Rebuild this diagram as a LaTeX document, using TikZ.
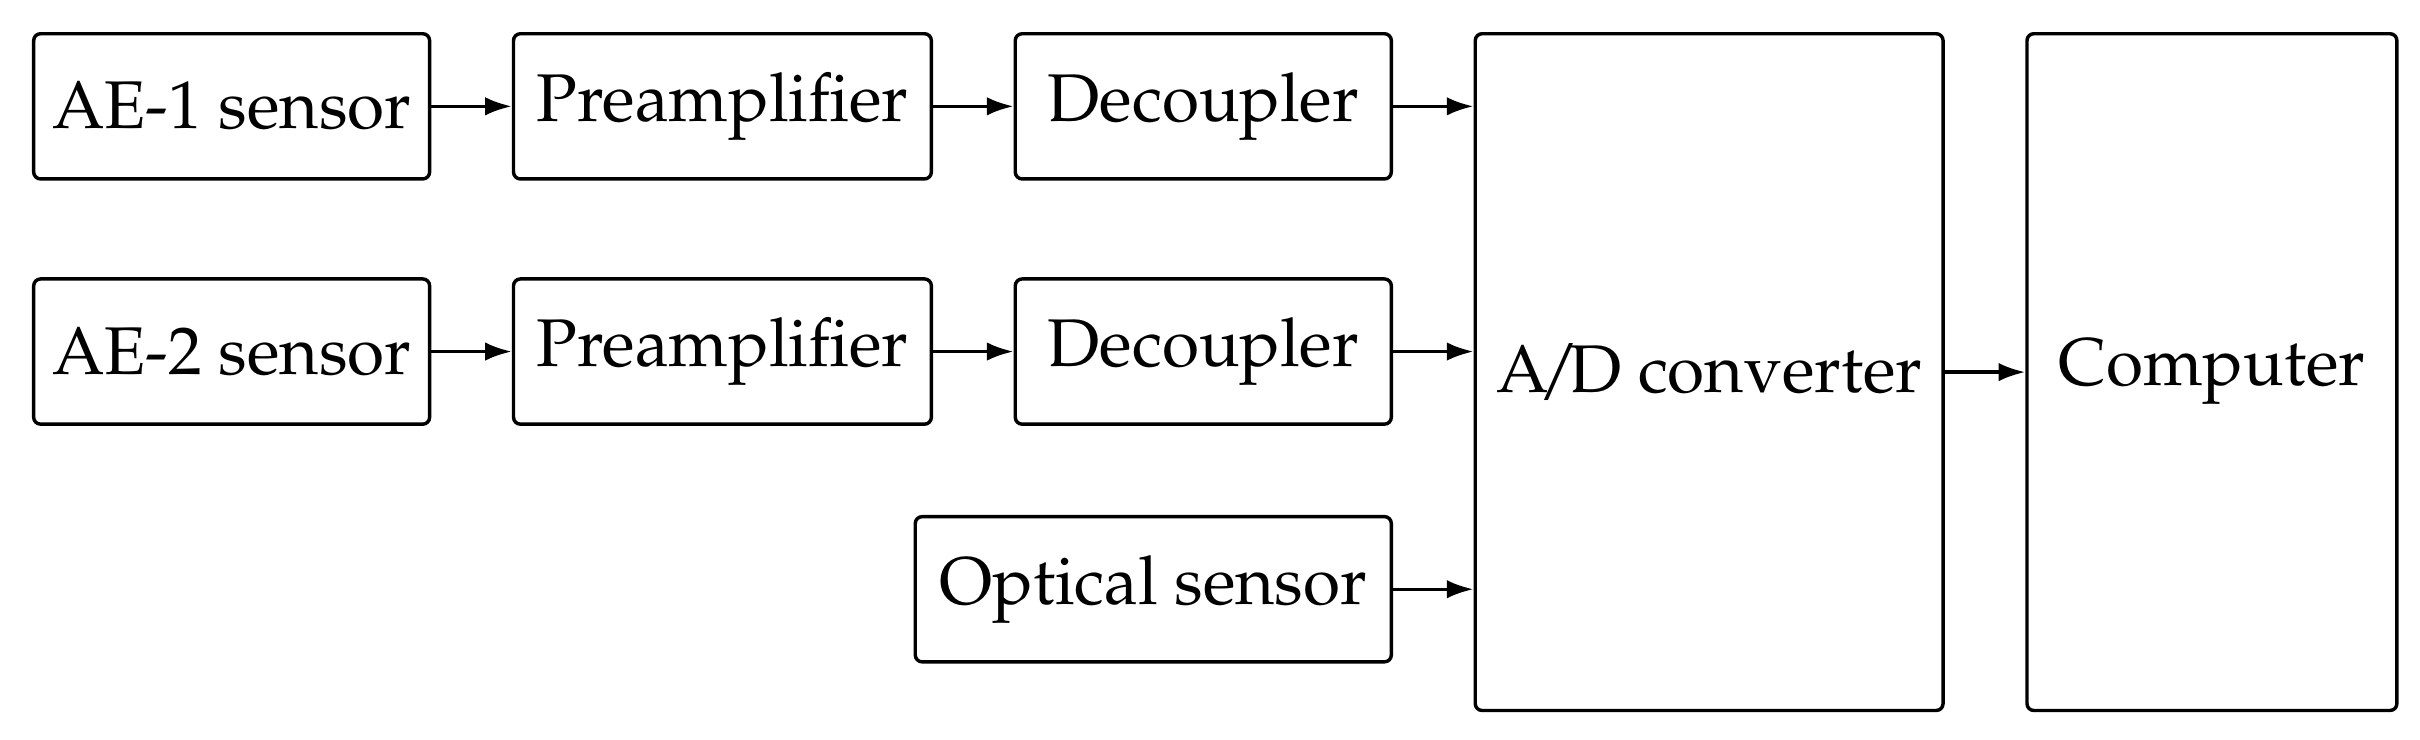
\documentclass[tikz,border=0pt]{standalone}
\usepackage[T1]{fontenc}
\usepackage{mathpazo}
\usepackage{tikz}
\usetikzlibrary{arrows.meta,positioning}

\begin{document}
\begin{tikzpicture}[
    node distance=14.1pt and 11.75pt,
    every node/.style={font=\fontsize{9.85}{12}\selectfont},
    box/.style={draw=black, rounded corners=1pt, align=center, line width=.5pt,
      minimum height=21.2pt, inner sep=1pt},
    flow/.style={-{Latex[length=3.9pt,width=2.7pt]}, line width=.5pt, draw=black}
  ]
    % two acoustic emission channels
    \node[box, minimum width=57.8pt] (ae1) {AE-1 sensor};
    \node[box, minimum width=61pt, right=of ae1] (pre1) {Preamplifier};
    \node[box, minimum width=54.9pt, right=of pre1] (dec1) {Decoupler};
    \node[box, minimum width=57.8pt, below=of ae1] (ae2) {AE-2 sensor};
    \node[box, minimum width=61pt, right=of ae2] (pre2) {Preamplifier};
    \node[box, minimum width=54.9pt, right=of pre2] (dec2) {Decoupler};
    \node[box, minimum width=69.5pt, below=13pt of dec2.south east, anchor=north east] (optical) {Optical sensor};
    % acquisition
    \node[box, minimum width=68.3pt, minimum height=98.8pt,
      right=of dec1.north east, anchor=north west] (adc) {A\kern-1.5pt/\kern-1.5pt D converter};
    \node[box, minimum width=54pt, minimum height=98.8pt, right=of adc] (computer) {Computer};
    \draw[flow] (ae1) -- (pre1);
    \draw[flow] (pre1) -- (dec1);
    \draw[flow] (ae2) -- (pre2);
    \draw[flow] (pre2) -- (dec2);
    \draw[flow] (dec1) -- (dec1 -| adc.west);
    \draw[flow] (dec2) -- (dec2 -| adc.west);
    \draw[flow] (optical) -- (optical -| adc.west);
    \draw[flow] (adc) -- (computer);
    \useasboundingbox ([shift={(-4.67pt,4.67pt)}]ae1.north west) rectangle ++(353.3pt,-107.9pt);
  \end{tikzpicture}
\end{document}
